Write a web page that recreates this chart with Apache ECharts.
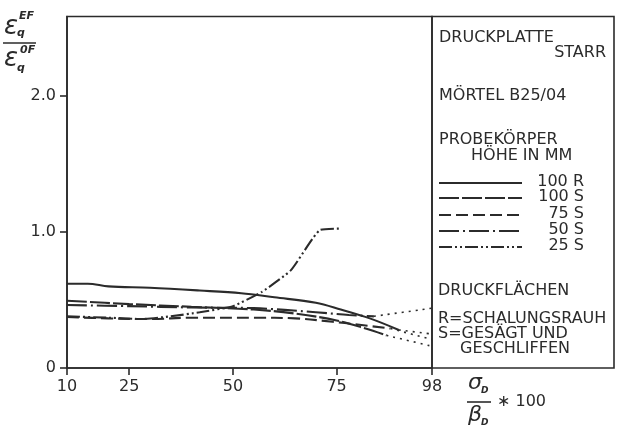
<!DOCTYPE html>
<html><head><meta charset="utf-8">
<script src="https://cdn.jsdelivr.net/npm/echarts@6/dist/echarts.min.js"></script>
<style>html,body{margin:0;padding:0;background:#fff}#c{width:636px;height:439px}</style>
</head><body><div id="c"></div>
<script>
// ---- data ----
const xTicks = [10, 25, 50, 75, 98];
const yTicks = [0, 1, 2];
const s100R = [[10,0.62],[15,0.62],[20,0.60],[30,0.59],[42,0.57],[52,0.55],[60,0.52],[70,0.48],[76,0.43],[83,0.365],[90,0.28]];
const s100S = [[10,0.495],[25,0.47],[40,0.45],[55,0.43],[65,0.40],[75,0.35],[82,0.29],[87,0.24]];
const s75S  = [[10,0.375],[20,0.365],[30,0.36],[40,0.37],[55,0.37],[65,0.365],[74,0.34],[80,0.32],[88,0.29]];
const s50S  = [[10,0.463],[25,0.455],[40,0.445],[55,0.44],[70,0.41],[78,0.39],[84,0.38]];
const s25S  = [[10,0.38],[20,0.37],[28,0.36],[35,0.38],[42,0.41],[50,0.455],[57,0.56],[64,0.72],[71,1.015],[76,1.025]];
const ext50S  = [[84,0.38],[98,0.44]];
const ext100R = [[90,0.28],[98,0.25]];
const ext75S  = [[88,0.29],[98,0.21]];
const ext100S = [[87,0.24],[98,0.16]];
const legendRows = [
  {label:'100 R', dash:'solid'},
  {label:'100 S', dash:[20,3]},
  {label:'75 S',  dash:[12,5]},
  {label:'50 S',  dash:[20,4,2,4]},
  {label:'25 S',  dash:[13,3,2,3,2,3]}
];

const INK = '#2b2b2b';
const FONT = 'DejaVu Sans';
const chart = echarts.init(document.getElementById('c'), null, {renderer:'canvas'});

function line(name, data, type, w, sm) {
  return {type:'line', name, data, smooth: sm === undefined ? 0.35 : sm, symbol:'none',
    lineStyle:{color:INK, width:w||2.1, type}, animation:false};
}

const legendY = [183, 198, 215, 231, 247];
const graphics = [];
graphics.push({type:'rect', shape:{x:432, y:16.5, width:182, height:351.5}, style:{fill:'none', stroke:INK, lineWidth:1.6}, silent:true});
const txt = (t, x, y, opts) => Object.assign({type:'text', x, y, style:Object.assign({text:t, fill:INK, font:'16px "DejaVu Sans"', textVerticalAlign:'middle'}, opts||{})});
graphics.push(txt('DRUCKPLATTE', 439, 38));
graphics.push(txt('STARR', 606, 53, {textAlign:'right'}));
graphics.push(txt('MÖRTEL B25/04', 439, 96));
graphics.push(txt('PROBEKÖRPER', 439, 140));
graphics.push(txt('HÖHE IN MM', 471, 156));
legendRows.forEach((r, i) => {
  graphics.push({type:'line', shape:{x1:439, y1:legendY[i], x2:522, y2:legendY[i]}, style:{stroke:INK, lineWidth:2, lineDash: r.dash==='solid'? null : r.dash}});
  graphics.push(txt(r.label, 584, legendY[i]-1, {textAlign:'right'}));
});
graphics.push(txt('DRUCKFLÄCHEN', 438, 291));
graphics.push(txt('R=SCHALUNGSRAUH', 438, 319));
graphics.push(txt('S=GESÄGT UND', 438, 334));
graphics.push(txt('GESCHLIFFEN', 460, 349));
// y axis title (fraction)
const it = (t, x, y, size, extra) => ({type:'text', x, y, style:Object.assign({text:t, fill:INK, font:'italic ' + size + 'px "DejaVu Sans"', textVerticalAlign:'middle'}, extra||{})});
const sup = 'italic bold 11px "DejaVu Sans"';
graphics.push(it('ε', 4, 27, 26));
graphics.push(it('q', 17, 33, 11, {font:sup}));
graphics.push(it('EF', 19, 16, 11, {font:sup}));
graphics.push({type:'line', shape:{x1:3, y1:43, x2:36, y2:43}, style:{stroke:INK, lineWidth:1.6}});
graphics.push(it('ε', 4, 59, 26));
graphics.push(it('q', 17, 68, 11, {font:sup}));
graphics.push(it('0F', 20, 50, 11, {font:sup}));
// x axis title (fraction)
graphics.push(it('σ', 468, 383, 22));
graphics.push(it('D', 481, 391, 9, {font:'italic bold 9px "DejaVu Sans"'}));
graphics.push({type:'line', shape:{x1:467, y1:402, x2:491, y2:402}, style:{stroke:INK, lineWidth:1.6}});
graphics.push(it('β', 468, 415, 22));
graphics.push(it('D', 481, 423, 9, {font:'italic bold 9px "DejaVu Sans"'}));
graphics.push(txt('∗ 100', 497, 402));

chart.setOption({
  animation:false,
  backgroundColor:'#fff',
  grid:{left:67, top:16.5, width:365, height:351.5, show:true, borderColor:INK, borderWidth:1.6, containLabel:false},
  xAxis:{type:'value', min:10, max:98,
    axisLine:{lineStyle:{color:INK, width:1.6}},
    axisTick:{show:true, length:7, lineStyle:{color:INK, width:1.6}, customValues:xTicks},
    axisLabel:{color:INK, fontFamily:FONT, fontSize:16, margin:11, customValues:xTicks},
    splitLine:{show:false}},
  yAxis:{type:'value', min:0, max:2.585,
    axisLine:{show:true, lineStyle:{color:INK, width:1.6}},
    axisTick:{show:true, length:7, lineStyle:{color:INK, width:1.6}, customValues:yTicks},
    axisLabel:{color:INK, fontFamily:FONT, fontSize:16, margin:11, customValues:yTicks,
      formatter:v => v === 0 ? '0' : v.toFixed(1)},
    splitLine:{show:false}},
  series:[
    line('100 R', s100R, 'solid'),
    line('100 S', s100S, [20,3]),
    line('75 S', s75S, [12,5]),
    line('50 S', s50S, [20,4,2,4]),
    line('25 S', s25S, [13,3,2,3,2,3], 2.1, 0.15),
    line('ext 50 S', ext50S, [2,5], 1.6),
    line('ext 100 R', ext100R, [2,5], 1.6),
    line('ext 75 S', ext75S, [2,5], 1.6),
    line('ext 100 S', ext100S, [2,5], 1.6)
  ],
  graphic:graphics
});
</script>
</body></html>
